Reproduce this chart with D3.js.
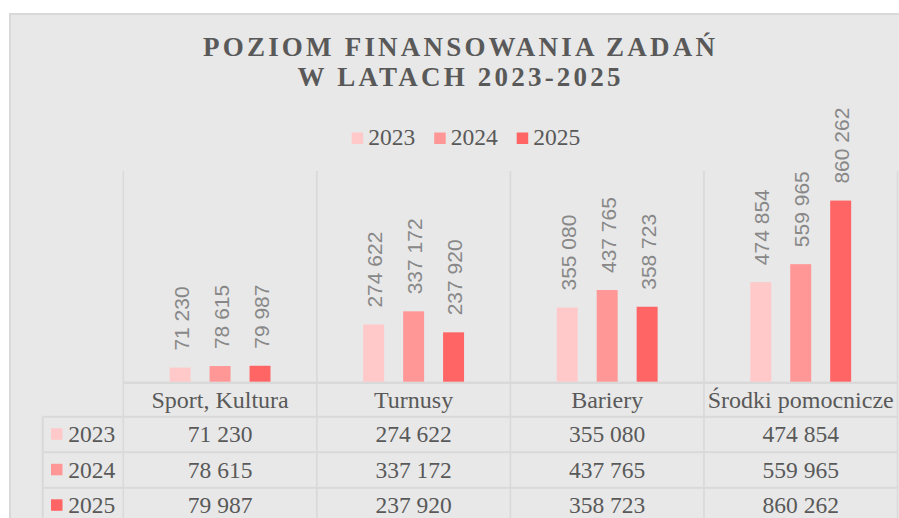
<!DOCTYPE html>
<html>
<head>
<meta charset="utf-8">
<script src="https://cdn.jsdelivr.net/npm/d3@7"></script>
<style>
  html, body { margin: 0; padding: 0; background: #fff; }
  svg { display: block; }
</style>
</head>
<body>
<svg id="chart"></svg>
<script>
const categories = ['Sport, Kultura', 'Turnusy', 'Bariery', 'Środki pomocnicze']
const years = ['2023', '2024', '2025']
const values2023 = [71230, 274622, 355080, 474854]
const values2024 = [78615, 337172, 437765, 559965]
const values2025 = [79987, 237920, 358723, 860262]
const yearColors = ['#ffc9c9', '#ff9797', '#ff6565']
const titleLines = ['POZIOM FINANSOWANIA ZADAŃ', 'W LATACH 2023-2025']
const yMax = 1000000

const series = [values2023, values2024, values2025]

const W = 899
const H = 518
const plotLeft = 123.3
const plotRight = 897.5
const plotTop = 171
const axisY = 382.7
const tableLeft = 42.7
const headerBottom = 416.7
const rowH = 35.5
const gridColor = '#d9d9d9'
const textColor = '#595959'
const serif = '"Liberation Serif", "Times New Roman", serif'

const fmt = d3.formatLocale({decimal: ',', thousands: ' ', grouping: [3], currency: ['', '']}).format(',')

const svg = d3.select('#chart').attr('width', W).attr('height', H)

// chart frame
svg.append('rect')
  .attr('x', 10).attr('y', 14)
  .attr('width', W + 20).attr('height', H + 20)
  .attr('fill', '#e8e8e8')
  .attr('stroke', gridColor).attr('stroke-width', 2)

const x = d3.scaleBand().domain(categories).range([plotLeft, plotRight])
const xYear = d3.scaleBand().domain(years).range([0, x.bandwidth()])
  .paddingInner(0.475).paddingOuter(1.16)
const y = d3.scaleLinear().domain([0, yMax]).range([axisY, plotTop])

// title
svg.append('g').selectAll('text').data(titleLines).join('text')
  .attr('x', 459 + 1.6)
  .attr('y', (d, i) => 56 + i * 30)
  .attr('text-anchor', 'middle')
  .attr('font-family', serif)
  .attr('font-weight', 'bold')
  .attr('font-size', 27)
  .attr('letter-spacing', 3.2)
  .attr('fill', textColor)
  .text(d => d)

// legend
const legend = svg.append('g').selectAll('g').data(years).join('g')
  .attr('transform', (d, i) => `translate(${351.7 + i * 82.5}, 0)`)
legend.append('rect')
  .attr('y', 132.5).attr('width', 11.5).attr('height', 11.5)
  .attr('fill', (d, i) => yearColors[i])
legend.append('text')
  .attr('x', 16.5).attr('y', 145.3)
  .attr('font-family', serif).attr('font-size', 23.5)
  .attr('fill', textColor)
  .text(d => d)

// category separators (through the table)
const bounds = categories.map(c => x(c)).concat([plotRight])
svg.append('g').selectAll('line').data(bounds).join('line')
  .attr('x1', d => d).attr('x2', d => d)
  .attr('y1', plotTop).attr('y2', H)
  .attr('stroke', gridColor).attr('stroke-width', 1.6)

// table horizontal lines
const rowLines = [0, 1, 2, 3].map(i => headerBottom + i * rowH)
svg.append('g').selectAll('line').data(rowLines).join('line')
  .attr('x1', tableLeft).attr('x2', plotRight)
  .attr('y1', d => d).attr('y2', d => d)
  .attr('stroke', gridColor).attr('stroke-width', 2)
svg.append('line')
  .attr('x1', tableLeft).attr('x2', tableLeft)
  .attr('y1', headerBottom).attr('y2', H)
  .attr('stroke', gridColor).attr('stroke-width', 2)
svg.append('line')
  .attr('x1', plotLeft).attr('x2', plotRight)
  .attr('y1', axisY).attr('y2', axisY)
  .attr('stroke', gridColor).attr('stroke-width', 2.5)

// bars
const groups = svg.append('g').selectAll('g').data(categories).join('g')
  .attr('transform', d => `translate(${x(d)}, 0)`)

const cells = groups.selectAll('g').data((c, ci) => years.map((yr, yi) => ({yr, yi, v: series[yi][ci]})))
  .join('g')

cells.append('rect')
  .attr('x', d => xYear(d.yr))
  .attr('width', xYear.bandwidth())
  .attr('y', d => y(d.v))
  .attr('height', d => axisY - 1 - y(d.v))
  .attr('fill', d => yearColors[d.yi])

cells.append('text')
  .attr('transform', d => `translate(${xYear(d.yr) + xYear.bandwidth() / 2 + 1}, ${y(d.v) - 17}) rotate(-90)`)
  .attr('dy', '0.36em')
  .attr('font-family', '"Liberation Sans", Arial, sans-serif')
  .attr('font-size', 21)
  .attr('fill', '#888')
  .text(d => fmt(d.v))

// table: header row with category names
svg.append('g').selectAll('text').data(categories).join('text')
  .attr('x', d => x(d) + x.bandwidth() / 2)
  .attr('y', 407.7)
  .attr('text-anchor', 'middle')
  .attr('font-family', serif).attr('font-size', 24)
  .attr('fill', textColor)
  .text(d => d)

// table: rows per year
const rows = svg.append('g').selectAll('g').data(years).join('g')
  .attr('transform', (d, i) => `translate(0, ${headerBottom + i * rowH})`)

rows.append('rect')
  .attr('x', 51).attr('y', 11.6)
  .attr('width', 11.5).attr('height', 11.5)
  .attr('fill', (d, i) => yearColors[i])
rows.append('text')
  .attr('x', 68.3).attr('y', 25.8)
  .attr('font-family', serif).attr('font-size', 23.5)
  .attr('fill', textColor)
  .text(d => d)

rows.each(function (yr, yi) {
  d3.select(this).selectAll('text.val').data(series[yi]).join('text')
    .attr('class', 'val')
    .attr('x', (d, i) => x(categories[i]) + x.bandwidth() / 2)
    .attr('y', 25.8)
    .attr('text-anchor', 'middle')
    .attr('font-family', serif).attr('font-size', 23.5)
    .attr('fill', textColor)
    .text(d => fmt(d))
})
</script>
</body>
</html>
